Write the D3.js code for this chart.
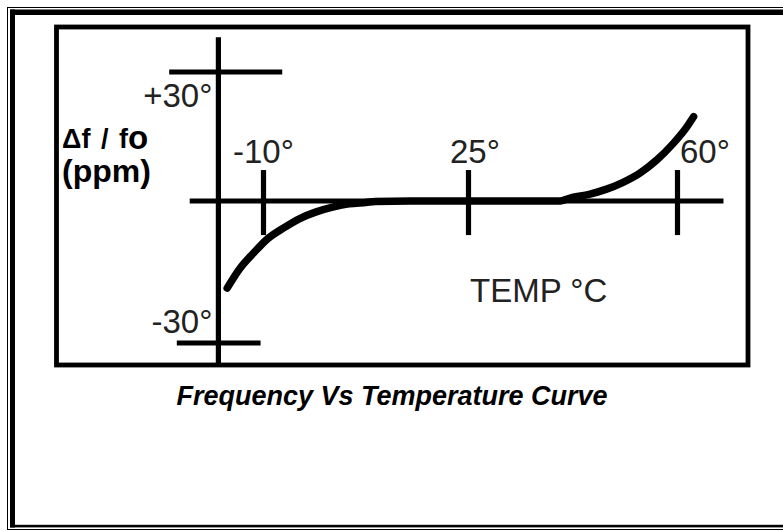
<!DOCTYPE html>
<html>
<head>
<meta charset="utf-8">
<script src="https://cdn.jsdelivr.net/npm/d3@7"></script>
<style>
  body { margin: 0; background: #fff; }
  svg { display: block; }
  .lbl { font-family: "Liberation Sans", Arial, sans-serif; fill: #222; }
</style>
</head>
<body>
<div id="app"></div>
<script>
// data
var temps = [-16.2, -14.0, -11.7, -9.5, -6.7, -3.8, -1.0, 1.8, 4.6, 7.5, 9.1, 15, 25, 35, 40.1, 42.4, 45.2, 48.0, 50.8, 53.7, 56.5, 59.3, 61.6, 62.7];
var ppm   = [-18.4, -14.2, -11.0, -8.2, -5.8, -3.7, -2.3, -1.3, -0.6, -0.3, -0.1, 0, 0, 0, 0, 0.86, 1.56, 2.7, 4.3, 6.5, 9.5, 13.4, 17.3, 19.6];
var tempTicks = [-10, 25, 60];
var tempLabels = ["-10°", "25°", "60°"];
var ppmTicks = [30, -30];
var ppmLabels = ["+30°", "-30°"];

var W = 783, H = 531;

var svg = d3.select("#app").append("svg")
    .attr("width", W)
    .attr("height", H);

// page frame (double border, cut at the right)
svg.append("rect").attr("x", 7.5).attr("y", 7.5).attr("width", 800).attr("height", 522)
    .attr("fill", "none").attr("stroke", "#000").attr("stroke-width", 1);
svg.append("rect").attr("x", 10).attr("y", 9.5).attr("width", 5).attr("height", 518).attr("fill", "#000");
svg.append("rect").attr("x", 10).attr("y", 9.5).attr("width", 790).attr("height", 5.5).attr("fill", "#000");
svg.append("rect").attr("x", 10).attr("y", 524.8).attr("width", 790).attr("height", 2.6).attr("fill", "#000");

// chart box
svg.append("rect").attr("x", 56.5).attr("y", 27).attr("width", 691.5).attr("height", 338)
    .attr("fill", "none").attr("stroke", "#000").attr("stroke-width", 4.8);

// scales (hand drawn, so piecewise)
var x = d3.scaleLinear().domain([-10, 25, 60]).range([263.5, 468.5, 677.5]);
var y = d3.scaleLinear().domain([-30, 0, 30]).range([343, 201, 72]);

var axisW = 5.2;
var g = svg.append("g").attr("stroke", "#000").attr("stroke-width", axisW).attr("stroke-linecap", "butt");

// x axis line
g.append("line").attr("x1", x(-22.6)).attr("x2", x(67.7)).attr("y1", y(0)).attr("y2", y(0));
// y axis line
var yAxisT = -17.7;
g.append("line").attr("x1", x(yAxisT)).attr("x2", x(yAxisT)).attr("y1", y(38.1)).attr("y2", 365);

// temperature ticks
g.selectAll(".tt").data(tempTicks).enter().append("line")
    .attr("class", "tt")
    .attr("x1", function(d) { return x(d); })
    .attr("x2", function(d) { return x(d); })
    .attr("y1", y(7.2))
    .attr("y2", y(-7.2));

// ppm ticks
var ppmSpan = { "30": [-26.1, -6.8], "-30": [-24.8, -10.5] };
g.selectAll(".pt").data(ppmTicks).enter().append("line")
    .attr("class", "pt")
    .attr("x1", function(d) { return x(ppmSpan[d][0]); })
    .attr("x2", function(d) { return x(ppmSpan[d][1]); })
    .attr("y1", function(d) { return y(d); })
    .attr("y2", function(d) { return y(d); });

// the curve
var pts = temps.map(function(t, i) { return [t, ppm[i]]; });
var line = d3.line()
    .x(function(d) { return x(d[0]); })
    .y(function(d) { return y(d[1]); })
    .curve(d3.curveMonotoneX);
svg.append("path")
    .datum(pts)
    .attr("d", line)
    .attr("fill", "none")
    .attr("stroke", "#000")
    .attr("stroke-width", 7.5)
    .attr("stroke-linecap", "round")
    .attr("stroke-linejoin", "round");

// tick labels
var tDx = [-30.5, -18.5, 2.5];
svg.selectAll(".tl").data(tempTicks).enter().append("text")
    .attr("class", "lbl")
    .attr("x", function(d, i) { return x(d) + tDx[i]; })
    .attr("y", y(0) - 38)
    .attr("font-size", 33)
    .text(function(d, i) { return tempLabels[i]; });

var pBase = [y(30) + 35, y(-30) - 10];
svg.selectAll(".pl").data(ppmTicks).enter().append("text")
    .attr("class", "lbl")
    .attr("x", x(yAxisT) - 6)
    .attr("y", function(d, i) { return pBase[i]; })
    .attr("text-anchor", "end")
    .attr("font-size", 33)
    .text(function(d, i) { return ppmLabels[i]; });

// y label
var yl = svg.append("text")
    .attr("class", "lbl")
    .attr("x", 62)
    .attr("y", 148)
    .attr("font-size", 27)
    .attr("font-weight", "bold")
    .attr("word-spacing", 3)
    .style("fill", "#000");
yl.append("tspan").text("Δf / f");
yl.append("tspan").attr("font-size", 33).attr("dy", 1).text("o");

svg.append("text")
    .attr("class", "lbl")
    .attr("x", 62)
    .attr("y", 182)
    .attr("font-size", 32)
    .attr("font-weight", "bold")
    .style("fill", "#000")
    .text("(ppm)");

// x label
svg.append("text")
    .attr("class", "lbl")
    .attr("x", 470)
    .attr("y", 302)
    .attr("font-size", 33)
    .text("TEMP °C");

// caption
svg.append("text")
    .attr("class", "lbl")
    .attr("x", 392)
    .attr("y", 405)
    .attr("text-anchor", "middle")
    .attr("font-size", 27)
    .attr("font-weight", "bold")
    .attr("font-style", "italic")
    .style("fill", "#000")
    .text("Frequency Vs Temperature Curve");
</script>
</body>
</html>
